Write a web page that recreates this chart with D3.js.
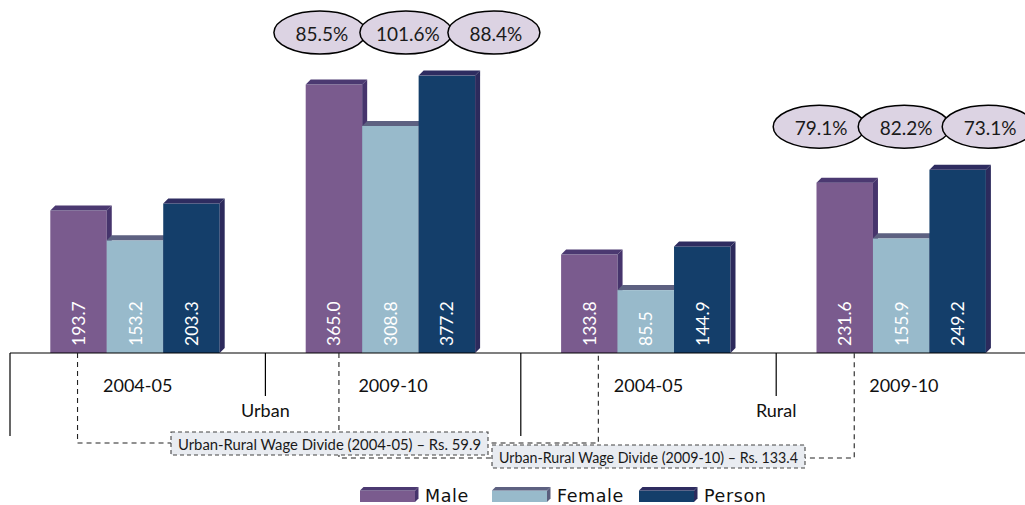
<!DOCTYPE html>
<html>
<head>
<meta charset="utf-8">
<script src="https://cdn.jsdelivr.net/npm/d3@7/dist/d3.min.js"></script>
<style>
  html, body { margin: 0; padding: 0; background: #fff; }
  svg { display: block; }
</style>
</head>
<body>
<svg id="chart" width="1025" height="505"></svg>
<script>
// ---- data ----
const groups = ["Urban 2004-05", "Urban 2009-10", "Rural 2004-05", "Rural 2009-10"];
const periods = ["2004-05", "2009-10", "2004-05", "2009-10"];
const areas = ["Urban", "Rural"];
const seriesNames = ["Male", "Female", "Person"];
const male = [193.7, 365.0, 133.8, 231.6];
const female = [153.2, 308.8, 85.5, 155.9];
const person = [203.3, 377.2, 144.9, 249.2];
const urbanRatios = ["85.5%", "101.6%", "88.4%"];
const ruralRatios = ["79.1%", "82.2%", "73.1%"];
const divideLabels = [
  "Urban-Rural Wage Divide (2004-05) \u2013 Rs. 59.9",
  "Urban-Rural Wage Divide (2009-10) \u2013 Rs. 133.4"
];

// ---- styling ----
const colors = {
  Male:   { front: "#7a5b8e", top: "#4b3971", side: "#46346c" },
  Female: { front: "#98bacb", top: "#5d6181", side: "#5a5e7d" },
  Person: { front: "#143e6a", top: "#2e2c60", side: "#2c2a5c" }
};
const font = "Lato, 'Open Sans', sans-serif";
const depth = 5;

const svg = d3.select("#chart");
const baseY = 353;

const x = d3.scaleBand().domain(groups).range([10, 1031.6]).padding(0);
const xs = d3.scaleBand().domain(seriesNames).range([40.3, 209.7]).padding(0);
const y = d3.scaleLinear().domain([0, 480]).range([baseY, 0]);

const valuesBy = { Male: male, Female: female, Person: person };

// ---- 3D bars ----
function box3d(g, x0, w, yTop, yBase, c, d) {
  const x1 = x0 + w;
  g.append("rect").attr("x", x0).attr("y", yTop).attr("width", w).attr("height", yBase - yTop)
    .attr("fill", c.front);
  g.append("path")
    .attr("d", `M${x0},${yTop}L${x0 + d},${yTop - d}L${x1 + d},${yTop - d}L${x1},${yTop}Z`)
    .attr("fill", c.top);
  g.append("path")
    .attr("d", `M${x1},${yTop}L${x1 + d},${yTop - d}L${x1 + d},${yBase - d}L${x1},${yBase}Z`)
    .attr("fill", c.side);
}

const barLayer = svg.append("g");
groups.forEach((grp, gi) => {
  seriesNames.forEach(s => {
    const v = valuesBy[s][gi];
    const bx = x(grp) + xs(s);
    const g = barLayer.append("g");
    box3d(g, bx, xs.bandwidth(), y(v), baseY, colors[s], depth);
    const cx = bx + xs.bandwidth() / 2;
    g.append("text")
      .attr("transform", `translate(${cx},${baseY - 7}) rotate(-90)`)
      .attr("text-anchor", "start")
      .attr("dominant-baseline", "central")
      .attr("fill", "#fff")
      .attr("font-family", font)
      .attr("font-size", 17.5)
      .text(v.toFixed(1));
  });
});

// ---- category axis ----
const axis = svg.append("g").attr("stroke", "#000").attr("stroke-width", 1.2);
axis.append("line").attr("x1", 10).attr("x2", 1025).attr("y1", baseY).attr("y2", baseY);
groups.forEach((grp, gi) => {
  const edge = x(grp);
  const long = gi % 2 === 0;
  axis.append("line").attr("x1", edge).attr("x2", edge)
    .attr("y1", baseY).attr("y2", long ? 436 : 396);
});
axis.append("line").attr("x1", x.range()[1]).attr("x2", x.range()[1])
  .attr("y1", baseY).attr("y2", 436);

groups.forEach((grp, gi) => {
  svg.append("text")
    .attr("x", x(grp) + x.bandwidth() / 2).attr("y", 392)
    .attr("text-anchor", "middle")
    .attr("font-family", font).attr("font-size", 18).attr("fill", "#111")
    .text(periods[gi]);
});
areas.forEach((a, ai) => {
  svg.append("text")
    .attr("x", x(groups[ai * 2 + 1])).attr("y", 417)
    .attr("text-anchor", "middle")
    .attr("font-family", font).attr("font-size", 18).attr("fill", "#111")
    .text(a);
});

// ---- wage divide connectors ----
const maleCenter = xs("Male") + xs.bandwidth() / 2;
const divides = [
  { from: 0, to: 2, shiftFrom: -1, shiftTo: 9, lineY: 443, box: [171, 432, 317, 23] },
  { from: 1, to: 3, shiftFrom: 5, shiftTo: 9.5, lineY: 458, box: [492, 445, 313, 23] }
];
const dashLayer = svg.append("g");
divides.forEach((dv, i) => {
  const xa = x(groups[dv.from]) + maleCenter + dv.shiftFrom;
  const xb = x(groups[dv.to]) + maleCenter + dv.shiftTo;
  dashLayer.append("path")
    .attr("d", `M${xa},${baseY}L${xa},${dv.lineY}L${xb},${dv.lineY}L${xb},${baseY}`)
    .attr("fill", "none").attr("stroke", "#222").attr("stroke-width", 1.1)
    .attr("stroke-dasharray", "5,4");
});
divides.forEach((dv, i) => {
  const [bx, by, bw, bh] = dv.box;
  svg.append("rect").attr("x", bx).attr("y", by).attr("width", bw).attr("height", bh)
    .attr("fill", "#e9ecf1").attr("stroke", "#444").attr("stroke-width", 1.1)
    .attr("stroke-dasharray", "4,3");
  svg.append("text")
    .attr("x", bx + bw / 2).attr("y", by + bh / 2 + 1)
    .attr("text-anchor", "middle").attr("dominant-baseline", "central")
    .attr("font-family", font).attr("font-size", 14.5).attr("fill", "#1a1a1a")
    .attr("textLength", bw - 14).attr("lengthAdjust", "spacingAndGlyphs")
    .text(divideLabels[i]);
});

// ---- ratio ellipses ----
const ratioSets = [
  { group: 1, labels: urbanRatios, offsets: [54.5, 140.5, 228.5] },
  { group: 3, labels: ruralRatios, offsets: [43, 128, 212] }
];
ratioSets.forEach(rs => {
  const top = d3.max(seriesNames, s => valuesBy[s][rs.group]);
  const cy = y(top) - 43;
  rs.labels.forEach((lab, i) => {
    const cx = x(groups[rs.group]) + rs.offsets[i];
    svg.append("ellipse").attr("cx", cx).attr("cy", cy).attr("rx", 46).attr("ry", 21.5)
      .attr("fill", "#dcd3e3").attr("stroke", "#000").attr("stroke-width", 1.5);
    svg.append("text").attr("x", cx + 2).attr("y", cy + 1)
      .attr("text-anchor", "middle").attr("dominant-baseline", "central")
      .attr("font-family", font).attr("font-size", 19).attr("fill", "#1a1a1a")
      .text(lab);
  });
});

// ---- legend ----
const legendX = [360, 492, 639];
const legend = svg.append("g");
seriesNames.forEach((s, i) => {
  const g = legend.append("g");
  box3d(g, legendX[i], 55, 490.5, 502, colors[s], 3.5);
  g.append("text").attr("x", legendX[i] + 65).attr("y", 502)
    .attr("font-family", "'DejaVu Sans', sans-serif").attr("font-size", 17.5)
    .attr("fill", "#111").attr("letter-spacing", 0.6)
    .text(s);
});
</script>
</body>
</html>
